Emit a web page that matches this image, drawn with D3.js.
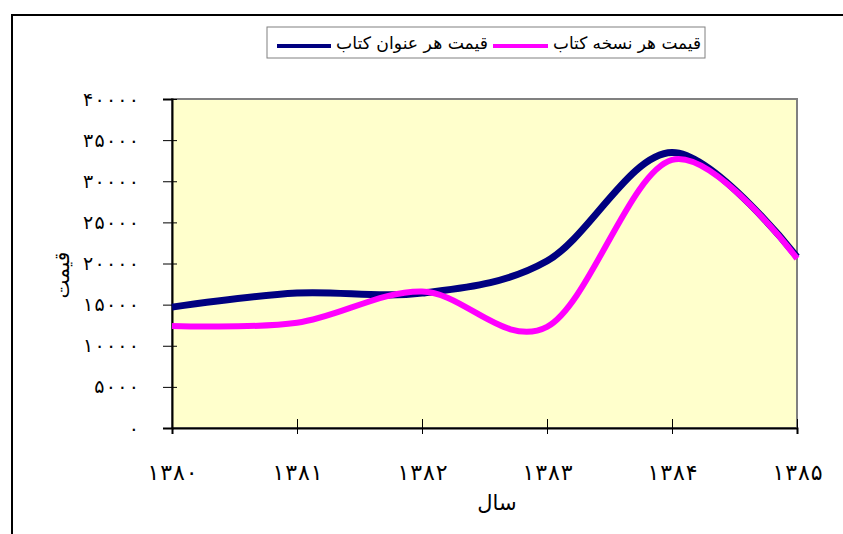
<!DOCTYPE html>
<html>
<head>
<meta charset="utf-8">
<script src="https://cdn.jsdelivr.net/npm/d3@7"></script>
<style>
  body { margin: 0; background: #fff; }
  svg { display: block; font-family: "DejaVu Sans", sans-serif; }
</style>
</head>
<body>
<div id="chart"></div>
<script>
// years and values
const years = ['۱۳۸۰', '۱۳۸۱', '۱۳۸۲', '۱۳۸۳', '۱۳۸۴', '۱۳۸۵'];
const perTitle = [14700, 16400, 16400, 20300, 33500, 20800];
const perCopy = [12400, 12800, 16600, 12300, 32600, 20600];
const yTicks = [0, 5000, 10000, 15000, 20000, 25000, 30000, 35000, 40000];
const seriesNames = ['قیمت هر عنوان کتاب', 'قیمت هر نسخه کتاب'];
const seriesColors = ['#000080', '#ff00ff'];

const W = 843, H = 534;
const svg = d3.select('#chart').append('svg').attr('width', W).attr('height', H);

// outer chart border (runs off the page at right and bottom)
svg.append('rect').attr('x', 12).attr('y', 15).attr('width', 845).attr('height', 540)
  .attr('fill', '#fff').attr('stroke', '#000').attr('stroke-width', 2);

const plot = {left: 172, top: 99, right: 797, bottom: 428};

const x = d3.scalePoint().domain(years).range([plot.left, plot.right]);
const y = d3.scaleLinear().domain([0, 40000]).range([plot.bottom, plot.top]);

// plot area
svg.append('rect').attr('x', plot.left).attr('y', plot.top)
  .attr('width', plot.right - plot.left).attr('height', plot.bottom - plot.top)
  .attr('fill', '#ffffcc').attr('stroke', '#808080').attr('stroke-width', 2);

const toFa = n => String(n).replace(/[0-9]/g, d => '۰۱۲۳۴۵۶۷۸۹'[+d]);

// y axis
const yAxis = svg.append('g').attr('transform', `translate(${plot.left},0)`)
  .call(d3.axisLeft(y).tickValues(yTicks).tickSize(9).tickFormat(toFa));
yAxis.select('.domain').attr('stroke', '#000').attr('stroke-width', 2);
yAxis.selectAll('.tick line').attr('x2', -9).attr('x1', 5).attr('stroke', '#000');
yAxis.selectAll('.tick text').attr('x', -33).attr('font-size', 19)
  .attr('font-family', '"DejaVu Sans", sans-serif').attr('fill', '#000')
  .each(function(d) {
    const n = String(d).length;
    d3.select(this).attr('textLength', n * 11.2).attr('lengthAdjust', 'spacing');
  });

// x axis
const xAxis = svg.append('g').attr('transform', `translate(0,${plot.bottom})`)
  .call(d3.axisBottom(x).tickSize(6).tickPadding(0));
xAxis.select('.domain').attr('stroke', '#000').attr('stroke-width', 2);
xAxis.selectAll('.tick line').attr('y1', -9).attr('y2', 6).attr('stroke', '#000');
xAxis.selectAll('.tick text').attr('y', 44).attr('dy', '0.35em').attr('font-size', 22)
  .attr('font-family', '"DejaVu Sans", sans-serif').attr('fill', '#000')
  .attr('textLength', 50).attr('lengthAdjust', 'spacing');

// axis titles
svg.append('text').attr('x', 497).attr('y', 503).attr('dy', '0.35em')
  .attr('text-anchor', 'middle').attr('font-size', 21).text('سال');
svg.append('text').attr('transform', 'translate(62,275) rotate(-90)').attr('dy', '0.35em')
  .attr('text-anchor', 'middle').attr('font-size', 20).text('قیمت');

// smoothed lines
const line = d3.line().x((d, i) => x(years[i])).y(d => y(d)).curve(d3.curveCardinal.tension(0));
svg.append('path').datum(perTitle).attr('fill', 'none').attr('stroke', seriesColors[0])
  .attr('stroke-width', 7).attr('d', line);
svg.append('path').datum(perCopy).attr('fill', 'none').attr('stroke', seriesColors[1])
  .attr('stroke-width', 6).attr('d', line);

// legend
const lg = svg.append('g');
lg.append('rect').attr('x', 267).attr('y', 27).attr('width', 438).attr('height', 31)
  .attr('fill', '#fff').attr('stroke', '#808080').attr('stroke-width', 1);
const entries = [
  {x1: 277, x2: 331, tx: 488, tw: 152},
  {x1: 493, x2: 548, tx: 701, tw: 148}
];
entries.forEach((e, i) => {
  lg.append('line').attr('x1', e.x1).attr('x2', e.x2).attr('y1', 46).attr('y2', 46)
    .attr('stroke', seriesColors[i]).attr('stroke-width', 4);
  lg.append('text').attr('x', e.tx).attr('y', 43).attr('dy', '0.35em')
    .attr('text-anchor', 'end').attr('font-size', 17)
    .attr('textLength', e.tw).attr('lengthAdjust', 'spacingAndGlyphs')
    .text(seriesNames[i]);
});
</script>
</body>
</html>
